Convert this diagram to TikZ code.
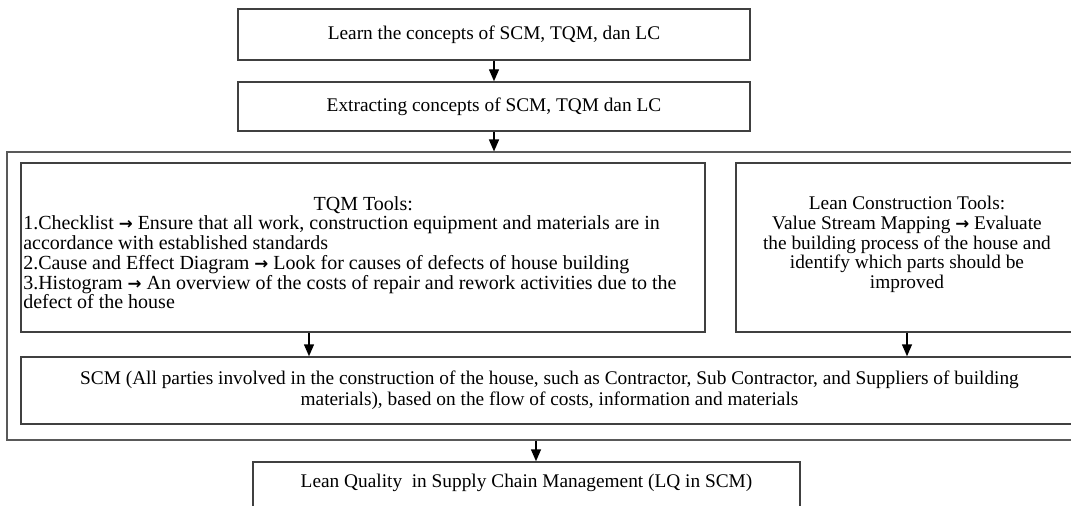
\documentclass[tikz,border=0pt]{standalone}
\usepackage{fontspec}
\setmainfont{Liberation Serif}
\newfontfamily\arrowfont{DejaVu Sans}
\newcommand{\ar}{{\arrowfont\bfseries\fontsize{12.5}{12.5}\selectfont →}}
\usetikzlibrary{fit,calc,arrows.meta}
\begin{document}
\begin{tikzpicture}[x=0.75pt,y=-0.75pt,
  box/.style={draw=black!75,line width=1.1pt,inner sep=0pt,rectangle},
  outerbox/.style={draw=black!65,line width=0.8pt,inner sep=0pt,rectangle},
  txt/.style={inner sep=0pt,font=\fontsize{14.5}{14.8}\selectfont},
  arr/.style={line width=1.1pt,-{Triangle[length=9pt,width=7.5pt]}}]
\clip (0,0) rectangle (1071,506);
\fill[white] (0,0) rectangle (1071,506);
% boxes
\node[box,fit={(238,9) (750,60)}] (b1) {};
\node[box,fit={(238,82) (750,131)}] (b2) {};
\node[outerbox,fit={(7,152) (1092,440)}] (outer) {};
\node[box,fit={(21,163) (705,332)}] (tqm) {};
\node[box,fit={(736,163) (1078,332)}] (lean) {};
\node[box,fit={(21,357) (1078,424)}] (scm) {};
\node[box,fit={(253,462) (800,540)}] (bot) {};
% texts
\node[txt] (t1) at (b1.center) {Learn the concepts of SCM, TQM, dan LC};
\node[txt] (t2) at (b2.center) {Extracting concepts of SCM, TQM dan LC};
\node[txt,font=\fontsize{15}{14.8}\selectfont,anchor=north west,text width=510pt,align=flush left] (ttqm) at (23,196)
 {\centerline{TQM Tools:}
 1.Checklist \ar{} Ensure that all work, construction equipment and materials are in\\
 accordance with established standards\\
 2.Cause and Effect Diagram \ar{} Look for causes of defects of house building\\
 3.Histogram \ar{} An overview of the costs of repair and rework activities due to the\\
 defect of the house};
\node[txt,anchor=north,align=center] (tlean) at (907,196)
 {Lean Construction Tools:\\Value Stream Mapping \ar{} Evaluate\\the building process of the house and\\identify which parts should be\\improved};
\node[txt,font=\fontsize{14.5}{16}\selectfont,align=center] (tscm) at (scm.center)
 {SCM (All parties involved in the construction of the house, such as Contractor, Sub Contractor, and Suppliers of building\\materials), based on the flow of costs, information and materials};
\node[txt] (tbot) at (526.5,483) {Lean Quality\ \ in Supply Chain Management (LQ in SCM)};
% connectors
\coordinate (tx) at (309,0);
\coordinate (ox) at (536,0);
\draw[arr] (b1.south) -- (b2.north);
\draw[arr] (b2.south) -- (b2.south |- outer.north);
\draw[arr] (tqm.south -| tx) -- (scm.north -| tx);
\draw[arr] (lean.south) -- (lean.south |- scm.north);
\draw[arr] (outer.south -| ox) -- (bot.north -| ox);
\end{tikzpicture}
\end{document}
